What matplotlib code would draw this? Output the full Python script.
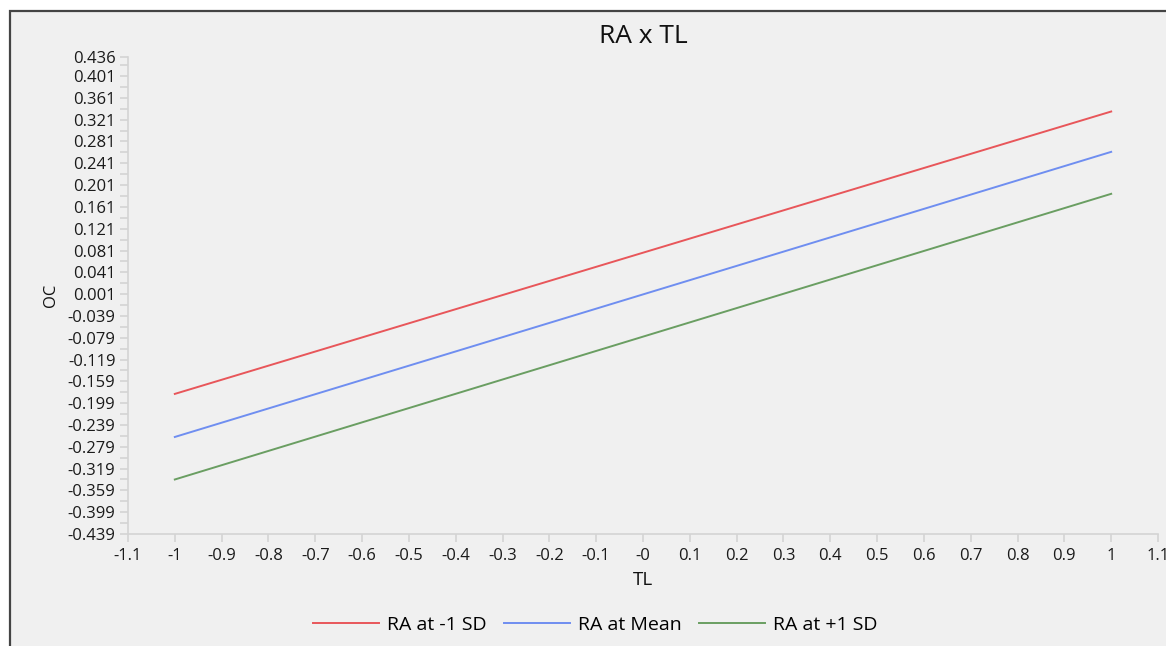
import matplotlib
matplotlib.use("Agg")
import matplotlib.pyplot as plt
from matplotlib.patches import Rectangle
import numpy as np

plt.rcParams['font.family'] = ['Open Sans', 'DejaVu Sans']

# data
tl = [-1, 1]
ra_low = [-0.182, 0.336]
ra_mean = [-0.261, 0.262]
ra_high = [-0.339, 0.185]

series_names = ['RA at -1 SD', 'RA at Mean', 'RA at +1 SD']
series_colors = ['#e8565a', '#6f8ef0', '#6a9e62']

x_ticks = [-1.1, -1, -0.9, -0.8, -0.7, -0.6, -0.5, -0.4, -0.3, -0.2, -0.1, 0,
           0.1, 0.2, 0.3, 0.4, 0.5, 0.6, 0.7, 0.8, 0.9, 1, 1.1]
x_labels = ['-1.1', '-1', '-0.9', '-0.8', '-0.7', '-0.6', '-0.5', '-0.4', '-0.3',
            '-0.2', '-0.1', '-0', '0.1', '0.2', '0.3', '0.4', '0.5', '0.6', '0.7',
            '0.8', '0.9', '1', '1.1']
y_ticks = [-0.439, -0.399, -0.359, -0.319, -0.279, -0.239, -0.199, -0.159, -0.119,
           -0.079, -0.039, 0.001, 0.041, 0.081, 0.121, 0.161, 0.201, 0.241, 0.281,
           0.321, 0.361, 0.401, 0.436]

W, H = 1166, 646
fig = plt.figure(figsize=(W / 100, H / 100), dpi=100, facecolor='white')

# gray panel with dark border on top/left
bg = '#f0f0f0'
fig.patches.append(Rectangle((9.5 / W, -0.01), 1.02, (H - 10.5) / H + 0.01,
                             transform=fig.transFigure, facecolor=bg,
                             edgecolor='#444444', linewidth=1.6, zorder=-10))

ax = fig.add_axes([128 / W, 1 - 534 / H, (1158 - 128) / W, (534 - 57) / H])
ax.set_facecolor(bg)

for y, name, c in zip([ra_low, ra_mean, ra_high], series_names, series_colors):
    ax.plot(tl, y, color=c, linewidth=1.4, label=name)

ax.set_xlim(-1.1, 1.1)
ax.set_ylim(-0.439, 0.436)
ax.set_xticks(x_ticks)
ax.set_xticklabels(x_labels)
ax.set_yticks(y_ticks)
ax.set_yticklabels(['%.3f' % v for v in y_ticks])
minor = [v + 0.02 for v in y_ticks[:-1]]
ax.set_yticks(minor, minor=True)

for s in ['top', 'right']:
    ax.spines[s].set_visible(False)
for s in ['left', 'bottom']:
    ax.spines[s].set_color('#d4d4d4')
    ax.spines[s].set_linewidth(1.2)

ax.tick_params(axis='both', which='both', color='#d4d4d4', width=1.2,
               labelsize=12, labelcolor='#1a1a1a')
ax.tick_params(axis='y', which='both', length=6, pad=3)
ax.tick_params(axis='x', length=6, pad=4)

ax.set_title('RA x TL', fontsize=19, color='#111111', pad=10)
ax.set_xlabel('TL', fontsize=13.5, color='#111111', labelpad=5)
ax.set_ylabel('OC', fontsize=12, color='#111111', labelpad=6)

fig.legend(loc='center', bbox_to_anchor=(595 / W, 1 - 625 / H), ncol=3,
           frameon=False, fontsize=14, handlelength=3.4, columnspacing=0.9,
           handletextpad=0.4)

fig.savefig('out.png', dpi=100, facecolor='white')
